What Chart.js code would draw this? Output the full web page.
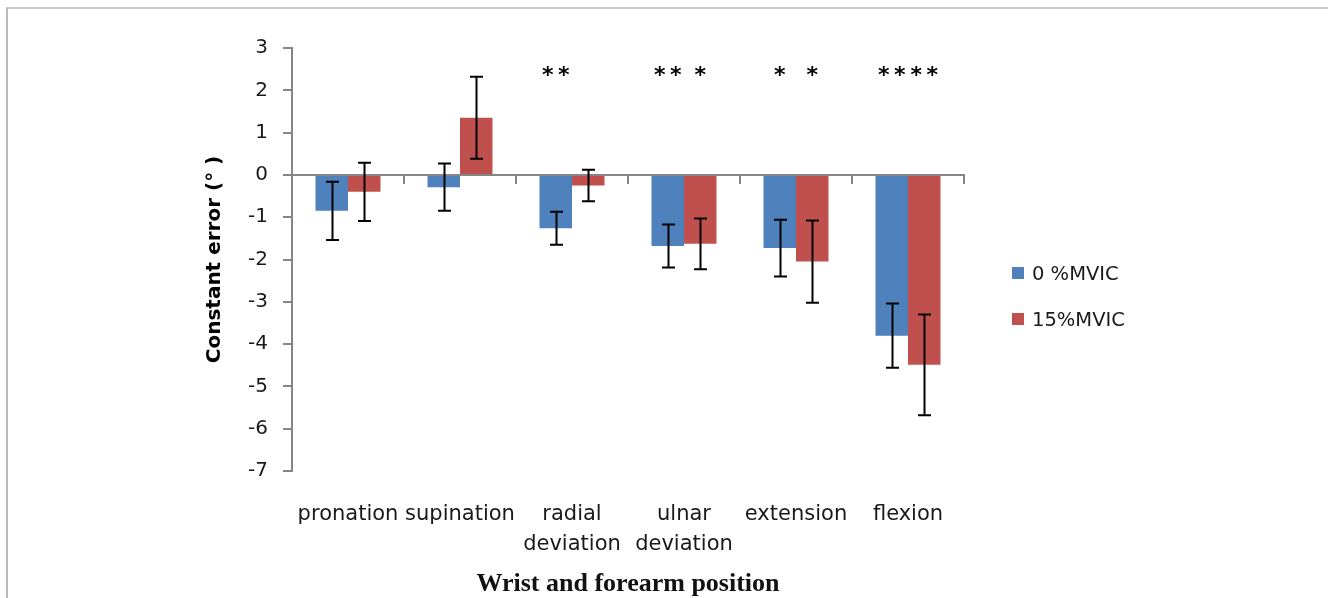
<!DOCTYPE html>
<html>
<head>
<meta charset="utf-8">
<script src="https://cdn.jsdelivr.net/npm/chart.js@4.4.1/dist/chart.umd.min.js"></script>
<style>
  html, body { margin: 0; padding: 0; background: #fff; }
  .wrap { position: relative; width: 1328px; height: 598px; overflow: hidden; }
  .frame { position: absolute; left: 6px; top: 7px; width: 1400px; height: 700px;
           border-top: 2px solid #cacaca; border-left: 2px solid #b8b8b8; }
  canvas { position: absolute; left: 0; top: 0; }
  .legend { position: absolute; left: 1012px; top: 0; font-family: "DejaVu Sans", sans-serif;
            font-size: 19.5px; color: #1a1a1a; }
  .legend .item { position: absolute; left: 0; display: flex; align-items: center; white-space: nowrap; height: 24px; }
  .legend .box { width: 12px; height: 12px; margin-right: 8px; }
</style>
</head>
<body>
<div class="wrap">
  <div class="frame"></div>
  <canvas id="myChart" width="1328" height="598"></canvas>
  <div class="legend" id="legend"></div>
</div>
<script>
// data
const categories = ['pronation', 'supination', ['radial', 'deviation'], ['ulnar', 'deviation'], 'extension', 'flexion'];
const seriesNames = ['0 %MVIC', '15%MVIC'];
const mvic0 = [-0.85, -0.29, -1.26, -1.68, -1.73, -3.80];
const mvic0Err = [0.69, 0.56, 0.39, 0.51, 0.67, 0.76];
const mvic15 = [-0.40, 1.35, -0.25, -1.63, -2.05, -4.49];
const mvic15Err = [0.69, 0.97, 0.37, 0.60, 0.97, 1.19];
const stars0 = ['', '', '**', '**', '*', '**'];
const stars15 = ['', '', '', '*', '*', '**'];
const yMin = -7, yMax = 3, yStep = 1;
const starLevel = 2.46;

const blue = '#4F81BD';
const red = '#C0504D';
const axisGray = '#868686';
const textColor = '#1a1a1a';

// error bars
const errorBars = {
  id: 'errorBars',
  afterDatasetsDraw(chart) {
    const ctx = chart.ctx;
    const y = chart.scales.y;
    ctx.save();
    ctx.strokeStyle = '#000';
    ctx.lineWidth = 2;
    chart.data.datasets.forEach((ds, i) => {
      const meta = chart.getDatasetMeta(i);
      meta.data.forEach((bar, j) => {
        const v = ds.data[j], e = ds.err[j];
        const top = y.getPixelForValue(v + e);
        const bot = y.getPixelForValue(v - e);
        const x = Math.round(bar.x) + 0.5;
        ctx.beginPath();
        ctx.moveTo(x, top); ctx.lineTo(x, bot);
        ctx.moveTo(x - 6.5, top); ctx.lineTo(x + 6.5, top);
        ctx.moveTo(x - 6.5, bot); ctx.lineTo(x + 6.5, bot);
        ctx.stroke();
      });
    });
    ctx.restore();
  }
};

// significance stars
const sigStars = {
  id: 'sigStars',
  afterDatasetsDraw(chart) {
    const ctx = chart.ctx;
    const cy = chart.scales.y.getPixelForValue(starLevel);
    ctx.save();
    ctx.font = 'bold 22px "DejaVu Sans"';
    ctx.fillStyle = '#000';
    ctx.textAlign = 'center';
    ctx.textBaseline = 'alphabetic';
    const m = ctx.measureText('*');
    const base = cy + (m.actualBoundingBoxAscent - m.actualBoundingBoxDescent) / 2;
    chart.data.datasets.forEach((ds, i) => {
      const meta = chart.getDatasetMeta(i);
      meta.data.forEach((bar, j) => {
        const s = ds.stars[j];
        for (let k = 0; k < s.length; k++) {
          ctx.fillText('*', bar.x + (k - (s.length - 1) / 2) * 16, base);
        }
      });
    });
    ctx.restore();
  }
};

const data = {
  labels: categories,
  datasets: [{
    label: seriesNames[0],
    backgroundColor: blue,
    borderWidth: 0,
    data: mvic0,
    err: mvic0Err,
    stars: stars0
  }, {
    label: seriesNames[1],
    backgroundColor: red,
    borderWidth: 0,
    data: mvic15,
    err: mvic15Err,
    stars: stars15
  }]
};

const config = {
  type: 'bar',
  data: data,
  options: {
    responsive: false,
    animation: false,
    devicePixelRatio: 1,
    categoryPercentage: 0.58,
    barPercentage: 1,
    layout: {
      padding: { left: 199, right: 364, top: 48, bottom: 0 }
    },
    scales: {
      x: {
        offset: true,
        grid: { display: false, drawTicks: false, offset: true },
        border: { display: false },
        ticks: {
          color: textColor,
          font: { family: 'DejaVu Sans', size: 21, lineHeight: 1.4 },
          padding: 29,
          autoSkip: false,
          maxRotation: 0,
          minRotation: 0
        },
        title: {
          display: true,
          text: 'Wrist and forearm position',
          color: '#111',
          font: { family: 'Liberation Serif', size: 26, weight: 'bold', lineHeight: 1 },
          padding: { top: 0, bottom: 1 }
        },
        afterFit: s => { s.height = 127; }
      },
      x2: {
        axis: 'x',
        type: 'category',
        labels: categories,
        position: { y: 0 },
        offset: true,
        grid: { offset: true, drawOnChartArea: false, drawTicks: true, tickLength: 8, color: axisGray, lineWidth: 2 },
        border: { display: true, color: axisGray, width: 2 },
        ticks: { display: false }
      },
      y: {
        min: yMin,
        max: yMax,
        grid: { drawOnChartArea: false, drawTicks: true, tickLength: 9, color: axisGray, lineWidth: 2 },
        border: { display: true, color: axisGray, width: 2 },
        ticks: {
          stepSize: yStep,
          color: textColor,
          padding: 15,
          font: { family: 'DejaVu Sans', size: 20 }
        },
        title: {
          display: true,
          text: 'Constant error (° )',
          color: '#000',
          font: { family: 'DejaVu Sans', size: 20, weight: 'bold', lineHeight: 1.2 }
        },
        afterFit: s => { s.width = 93; }
      }
    },
    plugins: {
      legend: { display: false },
      tooltip: { enabled: false }
    }
  },
  plugins: [errorBars, sigStars]
};

const myChart = new Chart(document.getElementById('myChart'), config);

// legend
const legendEl = document.getElementById('legend');
const legendY = [273, 319];
data.datasets.forEach((ds, i) => {
  const item = document.createElement('div');
  item.className = 'item';
  item.style.top = (legendY[i] - 12) + 'px';
  item.innerHTML = '<span class="box" style="background:' + ds.backgroundColor + '"></span><span>' + ds.label + '</span>';
  legendEl.appendChild(item);
});
</script>
</body>
</html>
